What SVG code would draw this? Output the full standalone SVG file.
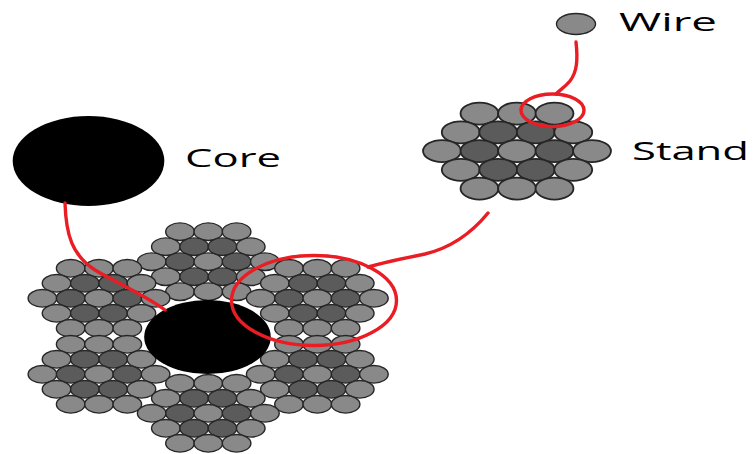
<svg xmlns="http://www.w3.org/2000/svg" xmlns:xlink="http://www.w3.org/1999/xlink" width="753" height="454" viewBox="0 0 753 454">
  <style>
    .lt { fill: #898989; stroke: #262626; stroke-width: 1.4; }
    .dk { fill: #5b5b5b; stroke: #262626; stroke-width: 1.4; }
    .core { fill: #000000; }
    .red { fill: none; stroke: #ea1c24; stroke-width: 3.4; stroke-linecap: round; }
    .label { font-family: "Open Sans", "Noto Sans", "Liberation Sans", sans-serif; font-size: 25px; fill: #000000; }
  </style>
  <defs>
    <!-- 19-wire strand (3-4-5-4-3), centred on the origin -->
    <g id="strand">
      <ellipse class="lt" cx="-28.3" cy="-30" rx="14.3" ry="8.8"/>
      <ellipse class="lt" cx="0" cy="-30" rx="14.3" ry="8.8"/>
      <ellipse class="lt" cx="28.3" cy="-30" rx="14.3" ry="8.8"/>
      <ellipse class="lt" cx="-42.45" cy="-15" rx="14.3" ry="8.8"/>
      <ellipse class="dk" cx="-14.15" cy="-15" rx="14.3" ry="8.8"/>
      <ellipse class="dk" cx="14.15" cy="-15" rx="14.3" ry="8.8"/>
      <ellipse class="lt" cx="42.45" cy="-15" rx="14.3" ry="8.8"/>
      <ellipse class="lt" cx="-56.6" cy="0" rx="14.3" ry="8.8"/>
      <ellipse class="dk" cx="-28.3" cy="0" rx="14.3" ry="8.8"/>
      <ellipse class="lt" cx="0" cy="0" rx="14.3" ry="8.8"/>
      <ellipse class="dk" cx="28.3" cy="0" rx="14.3" ry="8.8"/>
      <ellipse class="lt" cx="56.6" cy="0" rx="14.3" ry="8.8"/>
      <ellipse class="lt" cx="-42.45" cy="15" rx="14.3" ry="8.8"/>
      <ellipse class="dk" cx="-14.15" cy="15" rx="14.3" ry="8.8"/>
      <ellipse class="dk" cx="14.15" cy="15" rx="14.3" ry="8.8"/>
      <ellipse class="lt" cx="42.45" cy="15" rx="14.3" ry="8.8"/>
      <ellipse class="lt" cx="-28.3" cy="30" rx="14.3" ry="8.8"/>
      <ellipse class="lt" cx="0" cy="30" rx="14.3" ry="8.8"/>
      <ellipse class="lt" cx="28.3" cy="30" rx="14.3" ry="8.8"/>
    </g>
  </defs>

  <rect width="753" height="454" fill="#ffffff"/>

  <!-- single wire -->
  <g id="wire">
    <ellipse class="lt" cx="576" cy="24" rx="19.5" ry="10.5"/>
    <text class="label" x="619" y="30.5" textLength="98" lengthAdjust="spacingAndGlyphs">Wire</text>
  </g>

  <!-- one strand, enlarged -->
  <g id="stand">
    <use xlink:href="#strand" href="#strand" transform="translate(517,151) scale(1.325,1.25)"/>
    <text class="label" x="632" y="159.5" textLength="117" lengthAdjust="spacingAndGlyphs">Stand</text>
  </g>

  <!-- core on its own -->
  <g id="core">
    <ellipse class="core" cx="88.5" cy="161" rx="75.8" ry="45"/>
    <text class="label" x="185" y="166.5" textLength="96" lengthAdjust="spacingAndGlyphs">Core</text>
  </g>

  <!-- rope cross-section: six strands round a core -->
  <g id="rope">
    <use xlink:href="#strand" href="#strand" transform="translate(208.3,261.7)"/>
    <use xlink:href="#strand" href="#strand" transform="translate(99,298.3)"/>
    <use xlink:href="#strand" href="#strand" transform="translate(317.3,298.3)"/>
    <use xlink:href="#strand" href="#strand" transform="translate(99,374.3)"/>
    <use xlink:href="#strand" href="#strand" transform="translate(317.3,374.3)"/>
    <use xlink:href="#strand" href="#strand" transform="translate(208.3,413.3)"/>
    <ellipse class="core" cx="207.5" cy="337" rx="63.3" ry="37"/>
  </g>

  <!-- callout rings and leader lines -->
  <g id="connectors">
    <ellipse class="red" cx="314" cy="300.5" rx="82.5" ry="45"/>
    <ellipse class="red" cx="552.5" cy="110.3" rx="31.5" ry="16.3"/>
    <path class="red" d="M65,203 C66,235 72,255 95,270 C115,282 145,295 165,310"/>
    <path class="red" d="M488,213 C470,235 450,248 425,254 C400,259 385,262 368,267"/>
    <path class="red" d="M576,42 C578,60 577,72 570,81 C565,87 560,90 556,94"/>
  </g>
</svg>
